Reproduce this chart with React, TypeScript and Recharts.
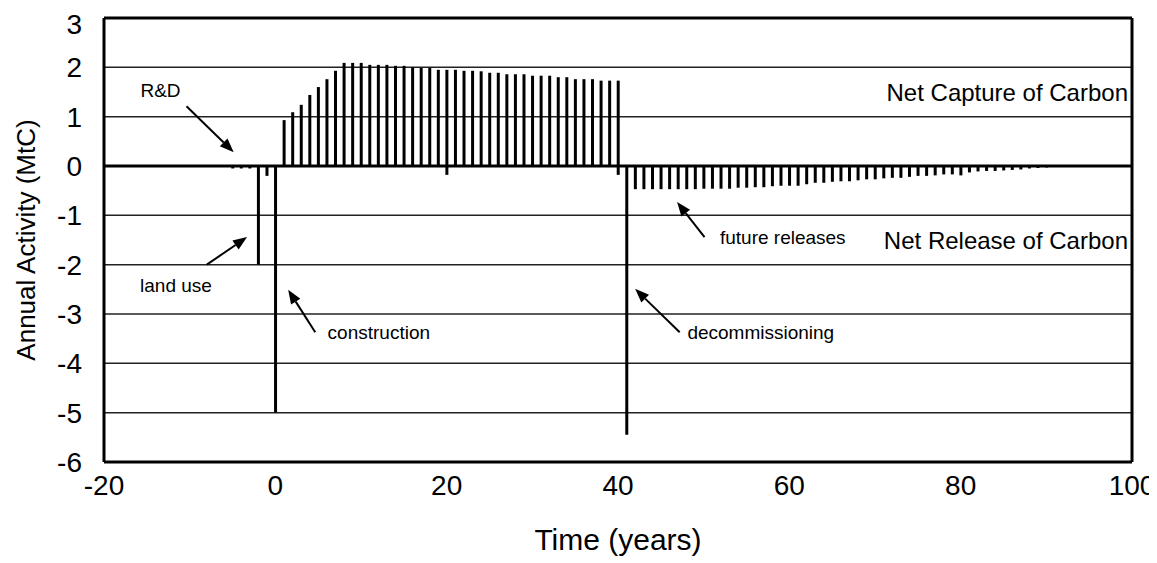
import { ComposedChart, Bar, XAxis, YAxis, CartesianGrid, ReferenceLine, ReferenceDot } from 'recharts'

// net capture of carbon, years 1-40
const captureYears = [1, 2, 3, 4, 5, 6, 7, 8, 9, 10, 11, 12, 13, 14, 15, 16, 17, 18, 19, 20,
  21, 22, 23, 24, 25, 26, 27, 28, 29, 30, 31, 32, 33, 34, 35, 36, 37, 38, 39, 40]
const captureValues = [0.93, 1.09, 1.24, 1.44, 1.6, 1.76, 1.93, 2.09, 2.09, 2.09, 2.05, 2.05, 2.05, 2.03, 2.03, 2.0, 1.99, 1.99, 1.95, 1.95,
  1.95, 1.93, 1.93, 1.92, 1.89, 1.89, 1.86, 1.86, 1.86, 1.83, 1.83, 1.83, 1.8, 1.8, 1.76, 1.76, 1.76, 1.73, 1.73, 1.73]

// net release of carbon
const releaseYears = [-5, -4, -3, -2, -1, 0, 20, 40, 41,
  42, 43, 44, 45, 46, 47, 48, 49, 50, 51, 52, 53, 54, 55, 56, 57, 58, 59, 60, 61, 62, 63, 64, 65,
  66, 67, 68, 69, 70, 71, 72, 73, 74, 75, 76, 77, 78, 79, 80, 81, 82, 83, 84, 85, 86, 87, 88, 89, 90]
const releaseValues = [-0.05, -0.05, -0.05, -2.0, -0.2, -5.0, -0.18, -0.18, -5.45,
  -0.47, -0.47, -0.47, -0.47, -0.47, -0.47, -0.47, -0.47, -0.46, -0.46, -0.46, -0.46, -0.44, -0.44, -0.43, -0.43, -0.41, -0.4, -0.4, -0.4, -0.37, -0.34, -0.34, -0.32,
  -0.31, -0.31, -0.29, -0.27, -0.27, -0.25, -0.24, -0.24, -0.22, -0.2, -0.2, -0.19, -0.17, -0.17, -0.19, -0.13, -0.11, -0.1, -0.1, -0.09, -0.08, -0.07, -0.05, -0.04, -0.03]

const xTicks = [-20, 0, 20, 40, 60, 80, 100]
const yTicks = [-6, -5, -4, -3, -2, -1, 0, 1, 2, 3]

// annotation text + arrows (data units)
const notes = [
  { text: 'R&D', x: -13.4, y: 1.53, pos: 'center' },
  { text: 'land use', x: -11.6, y: -2.42, pos: 'center' },
  { text: 'construction', x: 6.1, y: -3.37, pos: 'right' },
  { text: 'decommissioning', x: 48.1, y: -3.37, pos: 'right' },
  { text: 'future releases', x: 51.9, y: -1.44, pos: 'right' },
]
const arrows = [
  [{ x: -10.37, y: 1.21 }, { x: -4.86, y: 0.28 }],
  [{ x: -8.0, y: -2.0 }, { x: -3.3, y: -1.44 }],
  [{ x: 4.66, y: -3.37 }, { x: 1.5, y: -2.51 }],
  [{ x: 47.2, y: -3.37 }, { x: 42.0, y: -2.49 }],
  [{ x: 50.1, y: -1.44 }, { x: 46.9, y: -0.73 }],
]

const rows: { year: number; capture: number; release: number }[] = []
const allYears = Array.from(new Set([...releaseYears, ...captureYears])).sort((a, b) => a - b)
allYears.forEach(y => {
  const ci = captureYears.indexOf(y)
  const ri = releaseYears.indexOf(y)
  rows.push({ year: y, capture: ci >= 0 ? captureValues[ci] : 0, release: ri >= 0 ? releaseValues[ri] : 0 })
})

const FONT = 'Liberation Sans, Arial, sans-serif'

const Arrow = (p: any) => {
  const { x1, y1, x2, y2 } = p
  const a = Math.atan2(y2 - y1, x2 - x1)
  const L = 14, W = 5.5
  const bx = x2 - L * Math.cos(a), by = y2 - L * Math.sin(a)
  const pts = `${x2},${y2} ${bx + W * Math.sin(a)},${by - W * Math.cos(a)} ${bx - W * Math.sin(a)},${by + W * Math.cos(a)}`
  return (
    <g>
      <line x1={x1} y1={y1} x2={bx} y2={by} stroke="#000" strokeWidth={2} />
      <polygon points={pts} fill="#000" />
    </g>
  )
}

export default function App() {
  return (
    <div style={{ width: 1149, height: 555, fontFamily: FONT }}>
      <ComposedChart width={1149} height={555} data={rows} stackOffset="sign"
        margin={{ top: 10, right: 25, bottom: 11, left: 0 }}>
        <CartesianGrid vertical={false} stroke="#222" strokeWidth={1.5} />
        <XAxis type="number" dataKey="year" domain={[-20, 100]} ticks={xTicks} allowDataOverflow
          tickLine={false} tickSize={0} tickMargin={13} height={90}
          axisLine={{ stroke: '#000', strokeWidth: 3 }}
          tick={{ fill: '#000', fontSize: 28, fontFamily: FONT }}
          label={{ value: 'Time (years)', position: 'insideBottom', offset: 2, fill: '#000', fontSize: 30, fontFamily: FONT }} />
        <YAxis type="number" domain={[-6, 3]} ticks={yTicks} allowDataOverflow width={96}
          tickLine={false} tickSize={0} tickMargin={22}
          axisLine={{ stroke: '#000', strokeWidth: 3 }}
          tick={{ fill: '#000', fontSize: 28, fontFamily: FONT }}
          label={{ value: 'Annual Activity (MtC)', angle: -90, position: 'insideLeft', offset: 18, fill: '#000', fontSize: 26, fontFamily: FONT, style: { textAnchor: 'middle' } }} />
        <ReferenceLine y={3} stroke="#000" strokeWidth={3} />
        <ReferenceLine x={100} stroke="#000" strokeWidth={3} />
        <Bar dataKey="capture" stackId="s" fill="#000" barSize={3} isAnimationActive={false} />
        <Bar dataKey="release" stackId="s" fill="#000" barSize={3} isAnimationActive={false} />
        <ReferenceLine y={0} stroke="#000" strokeWidth={3} />
        {arrows.map((seg, i) => (
          <ReferenceLine key={'a' + i} segment={seg} shape={Arrow} ifOverflow="visible" />
        ))}
        {notes.map((n, i) => (
          <ReferenceDot key={'n' + i} x={n.x} y={n.y} r={0} fill="none" stroke="none" ifOverflow="visible"
            label={{ value: n.text, position: n.pos as any, offset: 0, fill: '#000', fontSize: 19, fontFamily: FONT }} />
        ))}
        <ReferenceDot x={100} y={1.5} r={0} fill="none" stroke="none"
          label={{ value: 'Net Capture of Carbon', position: 'left', offset: 4, fill: '#000', fontSize: 24, fontFamily: FONT }} />
        <ReferenceDot x={100} y={-1.5} r={0} fill="none" stroke="none"
          label={{ value: 'Net Release of Carbon', position: 'left', offset: 4, fill: '#000', fontSize: 24, fontFamily: FONT }} />
      </ComposedChart>
    </div>
  )
}
